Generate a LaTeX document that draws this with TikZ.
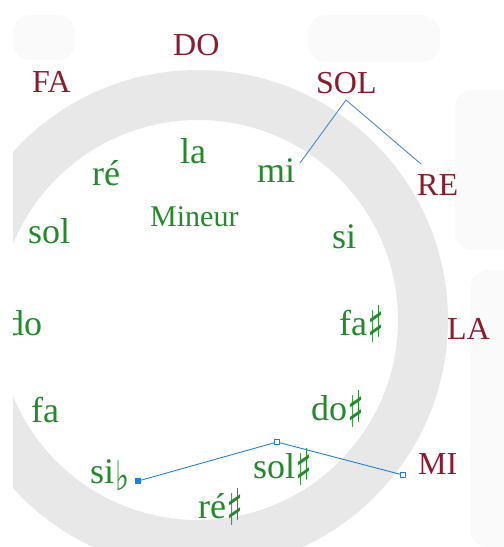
\documentclass[tikz,border=0pt]{standalone}
\usepackage{fontspec}
\usepackage{graphicx}
\setmainfont{Liberation Serif}
\newfontfamily\symf{DejaVu Sans}
\definecolor{majred}{HTML}{8B1A2C}
\definecolor{mingreen}{HTML}{23892A}
\definecolor{ringgray}{HTML}{E8E8E8}
\definecolor{bgblob}{HTML}{FAFAFA}
\definecolor{lineblue}{HTML}{4A88CC}
\definecolor{handleblue}{HTML}{1E80E6}
\newcommand{\shp}{\hspace{0pt}\raisebox{-7pt}{\resizebox*{17pt}{37pt}{\raisebox{\depth}{\symf\bfseries ♯}}}}
\newcommand{\flt}{\hspace{1pt}\raisebox{-8pt}{\resizebox*{14pt}{30pt}{\raisebox{\depth}{\symf\bfseries ♭}}}}
\begin{document}
\begin{tikzpicture}[x=1pt,y=-1pt,
  major/.style={text=majred, font=\fontsize{32}{36}\selectfont, anchor=base west, inner sep=0pt},
  minor/.style={text=mingreen, font=\fontsize{36}{40}\selectfont, anchor=base west, inner sep=0pt},
  link/.style={draw=lineblue, line width=0.9pt},
  handle/.style={draw=handleblue, fill=white, line width=0.8pt, minimum size=5pt, inner sep=0pt, rectangle},
  blob/.style={fill=bgblob, rounded corners=18pt}]
\useasboundingbox (0,0) rectangle (504,547);
\begin{scope}
\clip (13,0) rectangle (504,547);
% faint background blobs
\fill[blob] (13,15) rectangle (75,60);
\fill[blob] (308,15) rectangle (440,62);
\fill[blob] (455,90) rectangle (520,250);
\fill[blob] (470,270) rectangle (520,547);
% ring
\fill[ringgray, even odd rule] (198,320) circle (250) (198,320) circle (200);
% major keys
\node[major] (DO) at (173,55) {DO};
\node[major] (FA) at (32,92) {FA};
\node[major] (SOL) at (316,93) {SOL};
\node[major] (RE) at (417,195) {RE};
\node[major] (LA) at (447,339) {LA};
\node[major] (MI) at (418,474) {MI};
% minor keys
\node[minor] (la) at (180,163) {la};
\node[minor] (mi) at (257,182) {mi};
\node[minor] (re) at (92,185) {ré};
\node[minor, font=\fontsize{30}{34}\selectfont] (mineur) at (150,226) {Mineur};
\node[minor] (sol) at (28,243) {sol};
\node[minor] (si) at (332,248) {si};
\node[minor] (do) at (6,335) {do};
\node[minor] (fas) at (339,335) {fa\shp};
\node[minor] (fa) at (31,422) {fa};
\node[minor] (dos) at (311,420) {do\shp};
\node[minor] (sib) at (90,483) {si\flt};
\node[minor] (sols) at (253,478) {sol\shp};
\node[minor] (res) at (198,518) {ré\shp};
% connectors
\coordinate (a1) at (300,163);
\coordinate (a2) at (346,100);
\coordinate (a3) at (421,164);
\draw[link] (a1) -- (a2) -- (a3);
\node[handle, fill=handleblue] (h1) at (138,481) {};
\node[handle] (h2) at (277,442) {};
\node[handle] (h3) at (403,475) {};
\draw[draw=handleblue, line width=0.9pt] (h1) -- (h2) -- (h3);
\end{scope}
\end{tikzpicture}
\end{document}
